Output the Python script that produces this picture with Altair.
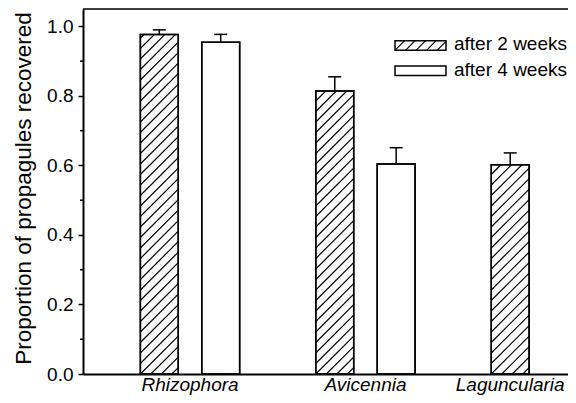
import math
import altair as alt
import pandas as pd

# ---------------- data ----------------
species = ["Rhizophora", "Avicennia", "Laguncularia"]
periods = ["after 2 weeks", "after 4 weeks"]
mean_2wk = [0.977, 0.814, 0.602]
se_2wk = [0.013, 0.041, 0.034]
mean_4wk = [0.954, 0.604, None]
se_4wk = [0.023, 0.047, None]
y_ticks = [0.0, 0.2, 0.4, 0.6, 0.8, 1.0]
minor_ticks = [0.1, 0.3, 0.5, 0.7, 0.9]

# ---------------- layout ----------------
W, H = 485, 365
KX = 175.44
XMIN = 0.39
XMAX = XMIN + W / KX
YMAX = 1.05
KY = H / YMAX
OFFSET = 0.175
HALF = 0.108
CAP = 0.037
SPACING = 10.5
FONT = "Liberation Sans"

rows = []
for i, sp in enumerate(species):
    for j, (m, s) in enumerate(((mean_2wk[i], se_2wk[i]), (mean_4wk[i], se_4wk[i]))):
        if m is None:
            continue
        pos = i + 1 + (-OFFSET if j == 0 else OFFSET)
        rows.append(dict(species=sp, period=periods[j], pos=pos, x0=pos - HALF, x1=pos + HALF,
                         mean=m, top=m + s, c0=pos - CAP, c1=pos + CAP, zero=0.0))
bars = pd.DataFrame(rows)

labels = bars.groupby("species", sort=False)["pos"].mean().reset_index()


def hatch_px(x0, x1, h):
    """45-degree hatch segments in a pixel rect (x right, u up from bottom)."""
    w = x1 - x0
    out = []
    k0 = math.ceil(-w / SPACING)
    k1 = math.floor(h / SPACING)
    for k in range(k0, k1 + 1):
        c = k * SPACING
        xa = max(0.0, -c)
        xb = min(w, h - c)
        if xb - xa > 0.5:
            out.append((x0 + xa, c + xa, x0 + xb, c + xb))
    return out


hrows = []
for _, r in bars[bars.period == periods[0]].iterrows():
    px0 = (r.x0 - XMIN) * KX
    px1 = (r.x1 - XMIN) * KX
    for (a, ua, b, ub) in hatch_px(px0, px1, r["mean"] * KY):
        hrows.append(dict(x=XMIN + a / KX, y=ua / KY, x2=XMIN + b / KX, y2=ub / KY))

# legend (pixel layout inside plot, converted to data coordinates)
leg_px = [dict(label=periods[0], x0=312, x1=363, y0=31.7, y1=41.3, ty=41, hatched=True),
          dict(label=periods[1], x0=312, x1=363, y0=57.0, y1=66.5, ty=67, hatched=False)]
leg_rows = []
for L in leg_px:
    leg_rows.append(dict(label=L["label"], x0=XMIN + L["x0"] / KX, x1=XMIN + L["x1"] / KX,
                         y0=YMAX - L["y0"] / KY, y1=YMAX - L["y1"] / KY,
                         tx=XMIN + (L["x1"] + 8) / KX, ty=YMAX - L["ty"] / KY))
    if L["hatched"]:
        hh = L["y1"] - L["y0"]
        for (a, ua, b, ub) in hatch_px(L["x0"], L["x1"], hh):
            hrows.append(dict(x=XMIN + a / KX, y=YMAX - (L["y1"] - ua) / KY,
                              x2=XMIN + b / KX, y2=YMAX - (L["y1"] - ub) / KY))
hatch = pd.DataFrame(hrows)
legend = pd.DataFrame(leg_rows)

xs = alt.Scale(domain=[XMIN, XMAX], nice=False, zero=False)
ys = alt.Scale(domain=[0, YMAX], nice=False, zero=True)

base_bars = alt.Chart(bars).mark_bar(fill="white", stroke="black", strokeWidth=1.5).encode(
    x=alt.X("x0:Q", scale=xs,
            axis=alt.Axis(title=None, labels=False, ticks=False, grid=False,
                          domainColor="black", domainWidth=2)),
    x2="x1:Q",
    y=alt.Y("mean:Q", scale=ys,
            axis=alt.Axis(values=y_ticks, format=".1f", grid=False, tickSize=5, tickWidth=1.5,
                          tickColor="black", domainColor="black", domainWidth=2,
                          labelFontSize=19, labelColor="black", labelPadding=5, labelFont=FONT,
                          title="Proportion of propagules recovered", titleFontSize=22.5,
                          titleFont=FONT, titleFontWeight="normal", titleColor="black",
                          titleAngle=-90, titleX=-53, titleY=179, titleAlign="center",
                          titleBaseline="alphabetic")),
    y2="zero:Q",
)

hatch_layer = alt.Chart(hatch).mark_rule(color="black", strokeWidth=1.2).encode(
    x=alt.X("x:Q", scale=xs), x2="x2:Q",
    y=alt.Y("y:Q", scale=ys), y2="y2:Q",
)

outline = alt.Chart(bars).mark_bar(fillOpacity=0, stroke="black", strokeWidth=1.5).encode(
    x=alt.X("x0:Q", scale=xs), x2="x1:Q",
    y=alt.Y("mean:Q", scale=ys), y2="zero:Q",
)

err_stem = alt.Chart(bars).mark_rule(color="black", strokeWidth=1.5).encode(
    x=alt.X("pos:Q", scale=xs),
    y=alt.Y("mean:Q", scale=ys), y2="top:Q",
)
err_cap = alt.Chart(bars).mark_rule(color="black", strokeWidth=1.5).encode(
    x=alt.X("c0:Q", scale=xs), x2="c1:Q",
    y=alt.Y("top:Q", scale=ys),
)

minor = alt.Chart(pd.DataFrame({"v": minor_ticks})).mark_rule(color="black", strokeWidth=1.5).encode(
    x=alt.value(-3), x2=alt.value(0),
    y=alt.Y("v:Q", scale=ys),
)

top_border = alt.Chart(pd.DataFrame({"v": [YMAX]})).mark_rule(color="black", strokeWidth=1.5).encode(
    x=alt.value(0), x2=alt.value(W),
    y=alt.Y("v:Q", scale=ys),
)

xlabels = alt.Chart(labels).mark_text(fontSize=19, fontStyle="italic", font=FONT, color="black",
                                      baseline="alphabetic", align="center").encode(
    x=alt.X("pos:Q", scale=xs),
    y=alt.value(H + 17),
    text="species:N",
)

leg_box = alt.Chart(legend).mark_rect(fill="white", fillOpacity=0, stroke="black", strokeWidth=1.5).encode(
    x=alt.X("x0:Q", scale=xs), x2="x1:Q",
    y=alt.Y("y0:Q", scale=ys), y2="y1:Q",
)
leg_text = alt.Chart(legend).mark_text(fontSize=19, font=FONT, color="black", align="left",
                                       baseline="alphabetic").encode(
    x=alt.X("tx:Q", scale=xs),
    y=alt.Y("ty:Q", scale=ys),
    text="label:N",
)

chart = alt.layer(
    base_bars, hatch_layer, outline, err_stem, err_cap, minor, top_border, xlabels, leg_box, leg_text
).properties(
    width=W, height=H,
    autosize=alt.AutoSizeParams(type="none"),
    padding={"left": 75, "top": 1, "right": 0, "bottom": 21},
).configure_view(stroke=None).configure(font=FONT)

chart.save("out.html", embed_options={"renderer": "svg", "actions": False})
